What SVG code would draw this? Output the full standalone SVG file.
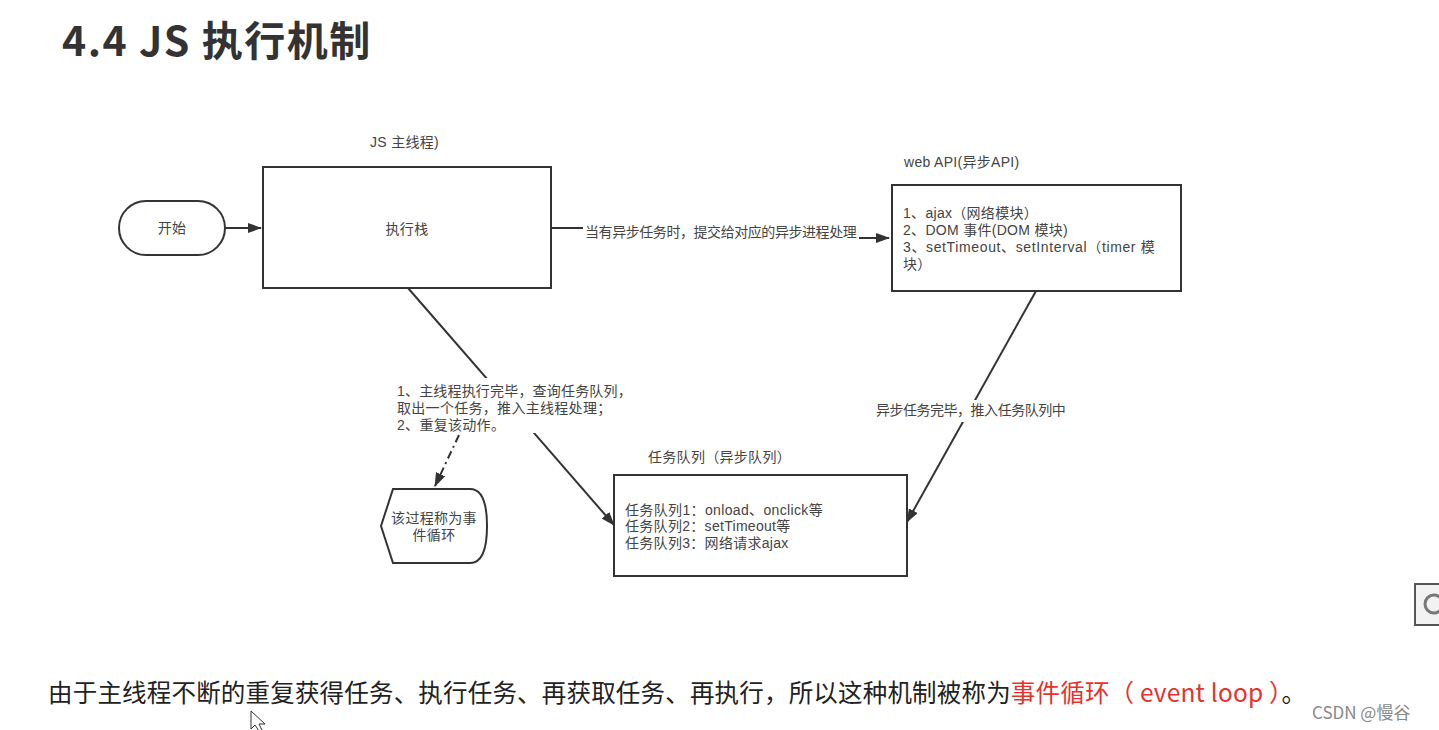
<svg xmlns="http://www.w3.org/2000/svg" width="1439" height="730" viewBox="0 0 1439 730">
<style>
.box{fill:#fff;stroke:#333;stroke-width:2}
.t{font-family:"Liberation Sans","Noto Sans CJK SC",sans-serif;font-size:14px;fill:#444;letter-spacing:0.3px}
.c{stroke:#333;stroke-width:2;fill:none}
.lbl{fill:#fff}
</style>
<defs>
<marker id="ah" markerWidth="14" markerHeight="10" refX="13" refY="5" orient="auto" markerUnits="userSpaceOnUse">
<path d="M0,0 L14,5 L0,10 Z" fill="#333"/>
</marker>
</defs>
<rect width="1439" height="730" fill="#fff"/>
<text x="62" y="56" font-family="'Noto Sans CJK SC','Liberation Sans',sans-serif" font-size="41" font-weight="bold" fill="#333" letter-spacing="1.5">4.4 JS 执行机制</text>

<g id="connectors">
<line class="c" x1="226" y1="228" x2="261" y2="228" marker-end="url(#ah)"/>
<path class="c" d="M551,228 H720 V238 H889" marker-end="url(#ah)"/>
<path class="c" d="M408,288 L614,525" marker-end="url(#ah)"/>
<path class="c" d="M459,435 L435,486" stroke-dasharray="8,4,2,4" marker-end="url(#ah)"/>
<path class="c" d="M1036,291 L907,522" marker-end="url(#ah)"/>
</g>

<g id="labels">
<rect class="lbl" x="583" y="222" width="276" height="20"/>
<text class="t" x="585" y="237" textLength="272">当有异步任务时，提交给对应的异步进程处理</text>
<rect class="lbl" x="393" y="378" width="242" height="55"/>
<text class="t" x="397" y="396" textLength="235">1、主线程执行完毕，查询任务队列，</text>
<text class="t" x="397" y="413">取出一个任务，推入主线程处理；</text>
<text class="t" x="397" y="430">2、重复该动作。</text>
<rect class="lbl" x="874" y="400" width="195" height="22"/>
<text class="t" x="876" y="415" textLength="190">异步任务完毕，推入任务队列中</text>
</g>

<g id="start">
<rect class="box" x="119" y="201" width="106" height="54" rx="27"/>
<text class="t" x="172" y="233" text-anchor="middle">开始</text>
</g>

<g id="mainthread">
<text class="t" x="370" y="147">JS 主线程)</text>
<rect class="box" x="263" y="167" width="288" height="121"/>
<text class="t" x="407" y="234" text-anchor="middle">执行栈</text>
</g>

<g id="webapi">
<text class="t" x="904" y="167">web API(异步API)</text>
<rect class="box" x="892" y="185" width="289" height="106"/>
<text class="t" x="903" y="218">1、ajax（网络模块）</text>
<text class="t" x="903" y="235">2、DOM 事件(DOM 模块)</text>
<text class="t" x="903" y="252" textLength="252">3、setTimeout、setInterval（timer 模</text>
<text class="t" x="903" y="269">块）</text>
</g>

<g id="eventloop">
<path class="box" d="M393,489 H470 Q487,489 487,526 Q487,563 470,563 H393 L381,526 Z"/>
<text class="t" x="434" y="523" text-anchor="middle">该过程称为事</text>
<text class="t" x="434" y="540" text-anchor="middle">件循环</text>
</g>

<g id="taskqueue">
<text class="t" x="648" y="462">任务队列（异步队列）</text>
<rect class="box" x="614" y="475" width="293" height="101"/>
<text class="t" x="625" y="515" textLength="198">任务队列1：onload、onclick等</text>
<text class="t" x="625" y="531">任务队列2：setTimeout等</text>
<text class="t" x="625" y="548">任务队列3：网络请求ajax</text>
</g>

<g id="icon">
<rect x="1415" y="584" width="26" height="41" fill="#f2f2f2" stroke="#555" stroke-width="2"/>
<circle cx="1434" cy="604" r="9" fill="none" stroke="#777" stroke-width="3"/>
</g>

<text x="48" y="702" font-family="'Noto Sans CJK SC','Liberation Sans',sans-serif" font-size="24.5" fill="#222" textLength="1258">由于主线程不断的重复获得任务、执行任务、再获取任务、再执行，所以这种机制被称为<tspan fill="#e5322d">事件循环（ event loop ）</tspan>。</text>
<text x="1312" y="719" font-family="'Noto Sans CJK SC','Liberation Sans',sans-serif" font-size="17" fill="#888">CSDN @慢谷</text>
<path d="M251,711 L251,729 L255,725 L259,731 L262,730 L259,724 L265,724 Z" fill="#fff" stroke="#333" stroke-width="1"/>
</svg>
